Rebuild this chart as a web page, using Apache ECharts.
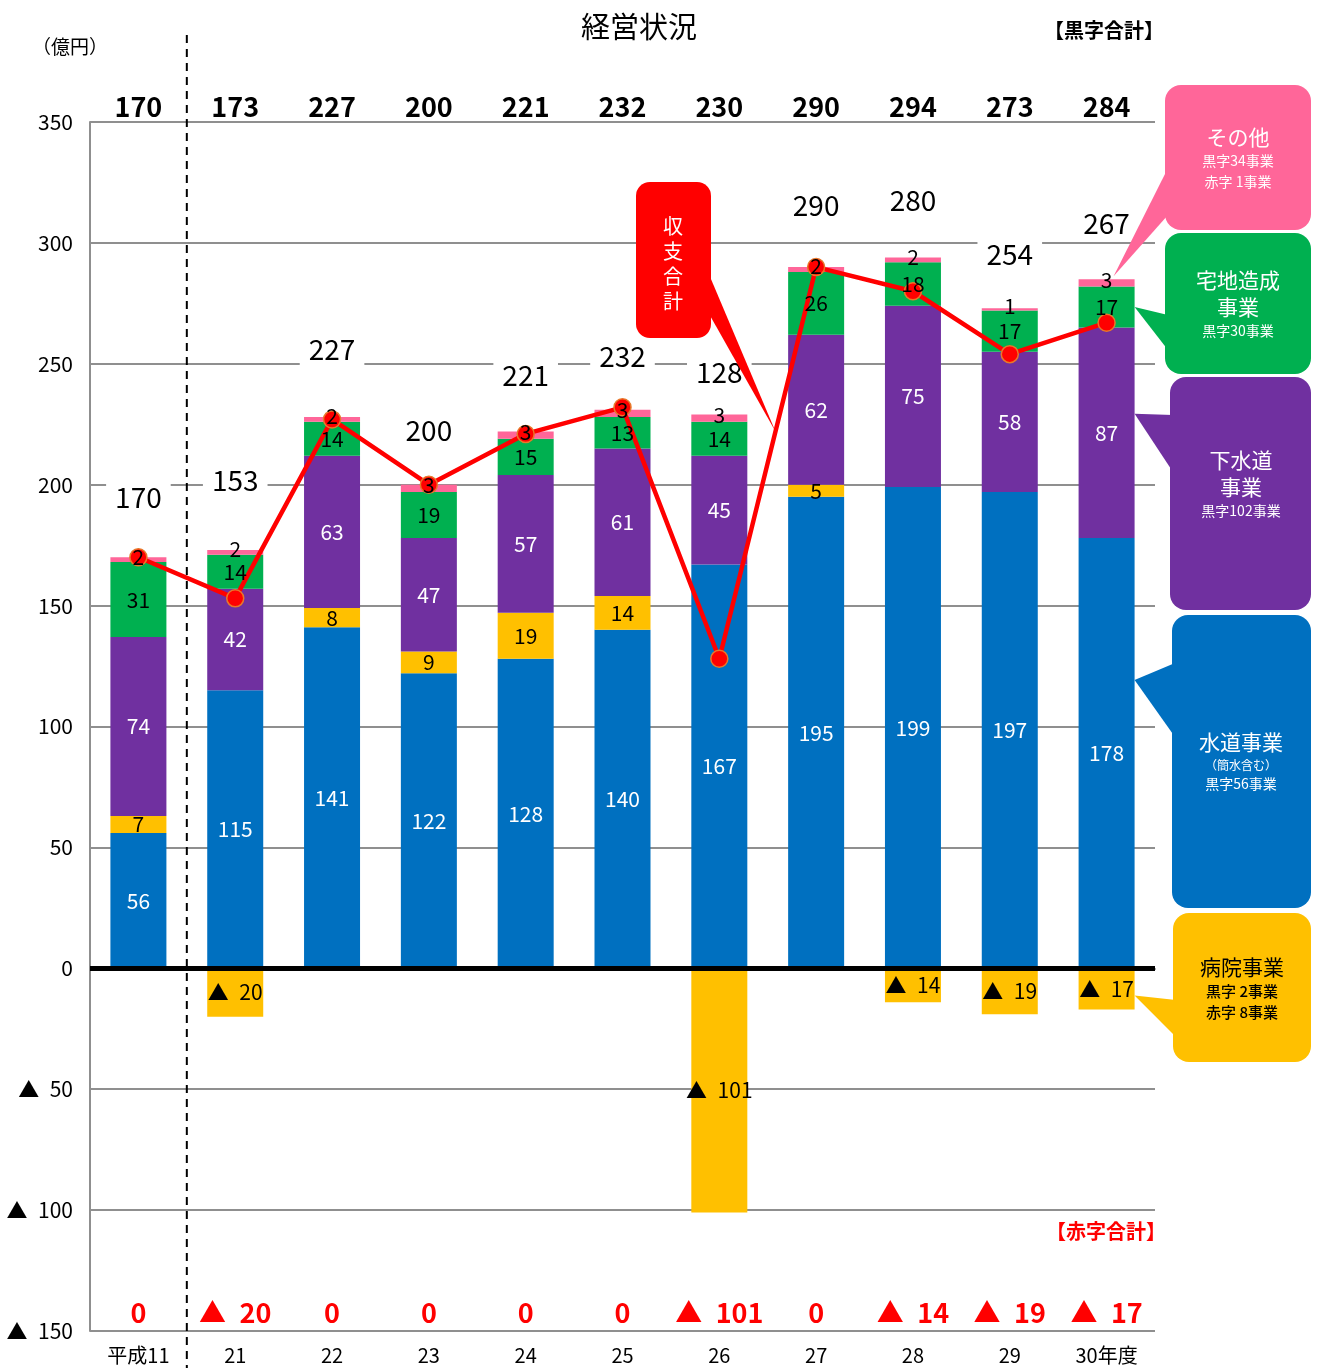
<!DOCTYPE html>
<html>
<head>
<meta charset="utf-8">
<title>経営状況</title>
<script src="https://cdn.jsdelivr.net/npm/echarts@6/dist/echarts.min.js"></script>
<style>
  html, body { margin: 0; padding: 0; background: #fff; }
  #c { width: 1322px; height: 1368px; }
</style>
</head>
<body>
<div id="c"></div>
<script>
// ---- data (億円) ----
const years          = ['平成11', '21', '22', '23', '24', '25', '26', '27', '28', '29', '30年度'];
const water          = [56, 115, 141, 122, 128, 140, 167, 195, 199, 197, 178];
const hospitalProfit = [7, 0, 8, 9, 19, 14, 0, 5, 0, 0, 0];
const hospitalLoss   = [0, -20, 0, 0, 0, 0, -101, 0, -14, -19, -17];
const sewer          = [74, 42, 63, 47, 57, 61, 45, 62, 75, 58, 87];
const landDev        = [31, 14, 14, 19, 15, 13, 14, 26, 18, 17, 17];
const other          = [2, 2, 2, 3, 3, 3, 3, 2, 2, 1, 3];
const surplusTotals  = [170, 173, 227, 200, 221, 232, 230, 290, 294, 273, 284];
const deficitTotals  = [0, -20, 0, 0, 0, 0, -101, 0, -14, -19, -17];
const netTotals      = [170, 153, 227, 200, 221, 232, 128, 290, 280, 254, 267];

// ---- look ----
const NUM = "'Liberation Sans Narrow','Arial Narrow','Noto Sans CJK JP',sans-serif";
const JP = "'Noto Sans CJK JP',sans-serif";
const BAR_W = 56;
const C = {
  water: '#0070C0', hosp: '#FFC000', sewer: '#7030A0', land: '#00B050',
  other: '#FF6699', red: '#FF0000', grid: '#8F8F8F'
};
// vertical gap between the top of each stack and its 収支 label
const NET_LIFT = [60, 70, 68, 54, 56, 53, 42, 62, 57, 54, 56];

// negative amounts are written with a leading triangle (▲ 20)
const tri = v => (v < 0 ? '▲\u2002' + (-v) : String(v));
const stackTop = water.map((w, i) => w + hospitalProfit[i] + sewer[i] + landDev[i] + other[i]);

function segment(name, data, color) {
  return {
    type: 'bar', name, data, stack: 'biz', barWidth: BAR_W, barGap: '-100%',
    itemStyle: { color }, z: 2, silent: true
  };
}
// transparent twin of a segment that only carries its value text, drawn above the line
function segmentText(name, data, textColor, dy) {
  return {
    type: 'bar', name: name + '値', data, stack: 'txt', barWidth: BAR_W, barGap: '-100%',
    itemStyle: { color: 'rgba(0,0,0,0)' }, z: 5, silent: true,
    label: {
      show: true, position: 'inside', color: textColor, fontFamily: NUM, fontSize: 21,
      offset: [0, dy || 0], formatter: p => (p.value > 0 ? String(p.value) : '')
    }
  };
}

const chart = echarts.init(document.getElementById('c'));

chart.setOption({
  animation: false,
  backgroundColor: '#fff',
  title: {
    text: '経営状況', left: 576, top: 7,
    textStyle: { fontFamily: JP, fontSize: 29, fontWeight: 'normal', color: '#000' }
  },
  grid: { left: 90, right: 167, top: 122, bottom: 37 },
  xAxis: [
    {
      type: 'category', data: years, position: 'bottom',
      axisLine: { show: true, lineStyle: { color: C.grid, width: 2 } },
      axisTick: { show: false },
      axisLabel: { interval: 0, fontFamily: NUM, fontSize: 20, color: '#000', margin: 14 }
    },
    {
      type: 'category', data: surplusTotals.map(String), position: 'top',
      axisLine: { show: false }, axisTick: { show: false },
      axisLabel: { interval: 0, fontFamily: NUM, fontWeight: 'bold', fontSize: 27, color: '#000', margin: 2 }
    },
    {
      type: 'category', data: deficitTotals.map(String), position: 'bottom',
      axisLine: { show: false }, axisTick: { show: false },
      axisLabel: {
        interval: 0, inside: true, fontFamily: NUM, fontWeight: 'bold', fontSize: 27,
        color: C.red, margin: 5, formatter: v => tri(+v)
      }
    }
  ],
  yAxis: {
    type: 'value', min: -150, max: 350, interval: 50,
    axisLine: { show: true, lineStyle: { color: C.grid, width: 2 } },
    axisTick: { show: false },
    splitLine: { lineStyle: { color: C.grid, width: 2 } },
    axisLabel: { fontFamily: NUM, fontSize: 21, color: '#000', margin: 17, formatter: v => tri(v) }
  },
  series: [
    segment('水道事業', water, C.water),
    segment('病院事業', hospitalProfit, C.hosp),
    segment('下水道事業', sewer, C.sewer),
    segment('宅地造成事業', landDev, C.land),
    segment('その他', other, C.other),
    Object.assign(segment('病院事業（赤字）', hospitalLoss, C.hosp), {
      label: {
        show: true, position: 'inside', color: '#000', fontFamily: NUM, fontSize: 21,
        formatter: p => (p.value < 0 ? tri(p.value) : '')
      }
    }),
    {
      type: 'line', name: '収支合計', data: netTotals, z: 3, silent: true,
      symbol: 'circle', symbolSize: 17,
      lineStyle: { color: C.red, width: 4.5 },
      itemStyle: { color: C.red, borderColor: '#E8782A', borderWidth: 1.5 },
      markLine: {
        silent: true, symbol: 'none', label: { show: false },
        lineStyle: { color: '#000', width: 5, type: 'solid' },
        data: [{ yAxis: 0 }]
      }
    },
    {
      type: 'custom', name: '収支合計値', z: 1, silent: true,
      data: netTotals.map((v, i) => [i, stackTop[i], v]),
      renderItem: (params, api) => {
        const p = api.coord([api.value(0), api.value(1)]);
        return {
          type: 'text', x: p[0], y: p[1] - NET_LIFT[params.dataIndex],
          style: {
            text: String(api.value(2)), align: 'center', verticalAlign: 'middle',
            font: '28px ' + NUM, fill: '#000', backgroundColor: '#fff', padding: [2, 9]
          }
        };
      }
    },
    segmentText('水道事業', water, '#fff'),
    segmentText('病院事業', hospitalProfit, '#000'),
    segmentText('下水道事業', sewer, '#fff'),
    segmentText('宅地造成事業', landDev, '#000'),
    segmentText('その他', other, '#000', -3)
  ]
});

// ---- annotations placed from the chart's own scales ----
const px = (i, v) => chart.convertToPixel({ seriesIndex: 0 }, [i, v]);
const last = years.length - 1;
const lastX = px(last, 0)[0];
const barRight = lastX + BAR_W / 2;
const landMid = water[last] + hospitalProfit[last] + sewer[last] + landDev[last] / 2;
const sewerBase = water[last] + hospitalProfit[last];

function callout(rect, b1, b2, tip, color, r) {
  return [
    { type: 'polygon', z: 20, silent: true, shape: { points: [b1, tip, b2] }, style: { fill: color } },
    { type: 'rect', z: 20, silent: true, shape: { x: rect[0], y: rect[1], width: rect[2], height: rect[3], r: r || 16 }, style: { fill: color } }
  ];
}
function label(text, x, y, size, color, weight, family) {
  return {
    type: 'text', z: 21, silent: true, x, y,
    style: {
      text, align: 'center', verticalAlign: 'middle', fill: color,
      font: (weight || 'normal') + ' ' + size + 'px ' + (family || JP)
    }
  };
}

const divX = (px(0, 0)[0] + px(1, 0)[0]) / 2;
const p26 = px(6, netTotals[6]);
const p27 = px(7, netTotals[7]);
const t = 0.58;
const netTip = [p26[0] + (p27[0] - p26[0]) * t, p26[1] + (p27[1] - p26[1]) * t];

const g = [
  {
    type: 'line', z: 6, silent: true,
    shape: { x1: divX, y1: 35, x2: divX, y2: 1368 },
    style: { stroke: '#000', lineWidth: 2, lineDash: [8, 6] }
  },
  label('（億円）', 70, 47, 19, '#000', 'normal'),
  label('【黒字合計】', 1104, 30, 20, '#000', 'bold'),
  label('【赤字合計】', 1106, 1231, 20, C.red, 'bold'),

  ...callout([636, 182, 75, 156], [708, 272], [708, 312], netTip, C.red, 14),
  label('収', 673, 226, 20, '#fff'),
  label('支', 673, 251, 20, '#fff'),
  label('合', 673, 276, 20, '#fff'),
  label('計', 673, 301, 20, '#fff'),

  ...callout([1165, 85, 146, 145], [1168, 168], [1168, 215], [lastX + 7, px(last, stackTop[last])[1] - 3], C.other),
  label('その他', 1238, 137, 21, '#fff'),
  label('黒字34事業', 1238, 161, 14, '#fff', 'normal', NUM),
  label('赤字 1事業', 1238, 182, 14, '#fff', 'normal', NUM),

  ...callout([1165, 233, 146, 141], [1168, 315], [1168, 350], [barRight, px(last, landMid)[1]], C.land),
  label('宅地造成', 1238, 280, 21, '#fff'),
  label('事業', 1238, 307, 21, '#fff'),
  label('黒字30事業', 1238, 331, 14, '#fff', 'normal', NUM),

  ...callout([1170, 377, 141, 233], [1173, 415], [1173, 472], [barRight, px(last, sewerBase + sewer[last] * 0.59)[1]], C.sewer),
  label('下水道', 1241, 460, 21, '#fff'),
  label('事業', 1241, 487, 21, '#fff'),
  label('黒字102事業', 1241, 511, 14, '#fff', 'normal', NUM),

  ...callout([1172, 615, 139, 293], [1175, 663], [1175, 737], [barRight, px(last, water[last] * 0.67)[1]], C.water),
  label('水道事業', 1241, 742, 21, '#fff'),
  label('（簡水含む）', 1241, 765, 12, '#fff'),
  label('黒字56事業', 1241, 784, 14, '#fff', 'normal', NUM),

  ...callout([1173, 913, 138, 149], [1176, 1000], [1176, 1037], [barRight, px(last, hospitalLoss[last] * 0.66)[1]], C.hosp),
  label('病院事業', 1242, 967, 21, '#000'),
  label('黒字 2事業', 1242, 991, 15, '#000', '500', NUM),
  label('赤字 8事業', 1242, 1012, 15, '#000', '500', NUM)
];

chart.setOption({ graphic: g });
</script>
</body>
</html>
